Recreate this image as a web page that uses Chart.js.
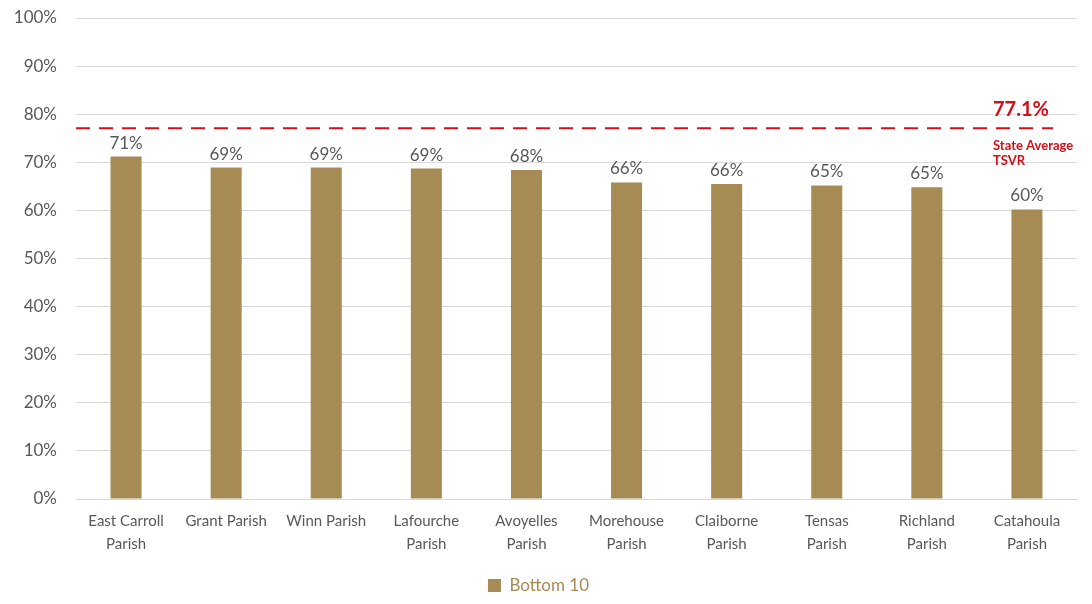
<!DOCTYPE html>
<html>
<head>
<meta charset="utf-8">
<script src="https://cdn.jsdelivr.net/npm/chart.js@4.4.1/dist/chart.umd.min.js"></script>
<style>
  html, body { margin: 0; padding: 0; background: #fff; }
  #wrap { width: 1092px; height: 604px; }
</style>
</head>
<body>
<div id="wrap"><canvas id="barChart"></canvas></div>
<script>
var parishes = [
    ["East Carroll", "Parish"], "Grant Parish", "Winn Parish", ["Lafourche", "Parish"], ["Avoyelles", "Parish"],
    ["Morehouse", "Parish"], ["Claiborne", "Parish"], ["Tensas", "Parish"], ["Richland", "Parish"], ["Catahoula", "Parish"]
];
var bottom10 = [71.2, 68.9, 68.9, 68.7, 68.4, 65.8, 65.5, 65.2, 64.8, 60.2];
var barLabels = ["71%", "69%", "69%", "69%", "68%", "66%", "66%", "65%", "65%", "60%"];
var stateAverage = 77.1;

var fontFamily = "Lato, 'Open Sans', sans-serif";
var gold = "#a68b55";
var red = "#d0101b";

// draw value labels above bars
var valueLabels = {
    id: 'valueLabels',
    afterDatasetsDraw: function (chart) {
        var c = chart.ctx;
        var meta = chart.getDatasetMeta(0);
        c.save();
        c.font = "17px " + fontFamily;
        c.fillStyle = "#595959";
        c.textAlign = "center";
        c.textBaseline = "bottom";
        meta.data.forEach(function (bar, i) {
            c.fillText(barLabels[i], bar.x, bar.y - 5);
        });
        c.restore();
    }
};

// state average dashed line + note
var avgLine = {
    id: 'avgLine',
    afterDatasetsDraw: function (chart) {
        var c = chart.ctx;
        var area = chart.chartArea;
        var y = chart.scales.y.getPixelForValue(stateAverage);
        c.save();
        c.strokeStyle = red;
        c.lineWidth = 2;
        c.setLineDash([14, 9]);
        c.beginPath();
        c.moveTo(area.left, y);
        c.lineTo(area.right - 24, y);
        c.stroke();
        c.setLineDash([]);
        c.fillStyle = red;
        c.textAlign = "left";
        c.font = "bold 20px " + fontFamily;
        c.textBaseline = "middle";
        c.fillText(stateAverage.toFixed(1) + "%", 993, y - 19);
        c.font = "bold 13px " + fontFamily;
        c.fillText("State Average", 993, y + 18);
        c.fillText("TSVR", 993, y + 33);
        c.restore();
    }
};

var ctx = document.getElementById("barChart");
var myChart = new Chart(ctx, {
    type: 'bar',
    data: {
        labels: parishes,
        datasets: [{
            label: "Bottom 10",
            data: bottom10,
            backgroundColor: gold,
            borderWidth: 0,
            categoryPercentage: 1.0,
            barPercentage: 0.31
        }]
    },
    options: {
        responsive: true,
        maintainAspectRatio: false,
        animation: false,
        layout: { padding: { top: 18, right: 15, left: 0, bottom: 0 } },
        plugins: {
            legend: {
                position: 'bottom',
                labels: {
                    boxWidth: 13,
                    boxHeight: 13,
                    color: gold,
                    padding: 2,
                    font: { family: fontFamily, size: 17 }
                }
            },
            tooltip: { enabled: false }
        },
        scales: {
            y: {
                min: 0,
                max: 100,
                afterFit: function (scale) {
                    scale.width = 76;
                    scale.paddingTop = 0;
                    scale.paddingBottom = 0;
                },
                ticks: {
                    stepSize: 10,
                    color: "#595959",
                    padding: 19,
                    font: { family: fontFamily, size: 17 },
                    callback: function (v) { return v + "%"; }
                },
                grid: { color: "#d9d9d9", drawTicks: false },
                border: { display: false }
            },
            x: {
                afterFit: function (scale) {
                    scale.height = 76;
                    scale.paddingLeft = 0;
                    scale.paddingRight = 0;
                },
                ticks: {
                    color: "#595959",
                    padding: 11,
                    maxRotation: 0,
                    font: { family: fontFamily, size: 15, lineHeight: 1.5 }
                },
                grid: { display: false, drawTicks: false },
                border: { color: "#d9d9d9" }
            }
        }
    },
    plugins: [valueLabels, avgLine]
});
</script>
</body>
</html>
